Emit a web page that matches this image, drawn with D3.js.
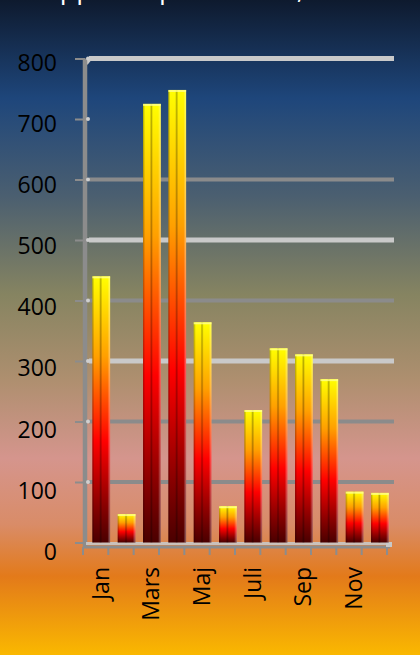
<!DOCTYPE html>
<html><head><meta charset="utf-8">
<script src="https://cdn.jsdelivr.net/npm/d3@7"></script>
<style>html,body{margin:0;padding:0;overflow:hidden;background:#000}</style>
</head><body>
<script>
const months = ["Jan","Feb","Mars","April","Maj","Juni","Juli","Aug","Sep","Okt","Nov","Dec"];
const values = [440, 47, 725, 748, 364, 60, 219, 321, 311, 270, 84, 82];
const yTicks = [0,100,200,300,400,500,600,700,800];
const shownLabels = ["Jan","Mars","Maj","Juli","Sep","Nov"];
const title = "Uppmätt per månad, mm";

const W = 420, H = 655;
const svg = d3.select("body").append("svg").attr("width", W).attr("height", H);
const defs = svg.append("defs");

// background gradient
const bg = defs.append("linearGradient").attr("id","bg").attr("x1",0).attr("y1",0).attr("x2",0).attr("y2",1);
[[0,"#0e1a2e"],[0.15,"#1e467b"],[0.3,"#4b5f70"],[0.45,"#868461"],[0.58,"#ae8f6f"],[0.7,"#d5958d"],[0.8,"#d98c68"],[0.88,"#e37a1a"],[1,"#fab800"]]
  .forEach(([o,c])=>bg.append("stop").attr("offset",o).attr("stop-color",c));
svg.append("rect").attr("width",W).attr("height",H).attr("fill","url(#bg)");

// bar gradients
const bv = defs.append("linearGradient").attr("id","barv").attr("x1",0).attr("y1",0).attr("x2",0).attr("y2",1);
[[0,"#ffff00"],[0.3,"#ffa000"],[0.62,"#ff0000"],[0.86,"#8a0000"],[1,"#4a0000"]]
  .forEach(([o,c])=>bv.append("stop").attr("offset",o).attr("stop-color",c));
const bh = defs.append("linearGradient").attr("id","barh").attr("x1",0).attr("y1",0).attr("x2",1).attr("y2",0);
[[0,"#000",0.3],[0.12,"#000",0],[0.38,"#000",0],[0.47,"#000",0.3],[0.56,"#000",0],[0.85,"#fff",0],[1,"#fff",0.4]]
  .forEach(([o,c,a])=>bh.append("stop").attr("offset",o).attr("stop-color",c).attr("stop-opacity",a));

const y = d3.scaleLinear().domain([0,800]).range([542.5,58.5]);
const yLab = d3.scaleLinear().domain([0,800]).range([551.5,62.5]);
const x = d3.scaleBand().domain(months).range([83,387]).padding(0);
const bw = x.bandwidth();

// title (cut off at top, as in the reference)
svg.append("text").attr("x",40).attr("y",-2).attr("fill","#fff")
  .attr("font-family","Open Sans").attr("font-size",27).text(title);

// gridlines
const light = new Set([800,500,300]);
const grid = svg.append("g");
yTicks.filter(t=>t>0 && t!==700).forEach(t=>{
  grid.append("line").attr("x1",89).attr("x2",394).attr("y1",y(t)).attr("y2",y(t))
    .attr("stroke", light.has(t)?"#c9c9c9":"#8b8b8b")
    .attr("stroke-width", light.has(t)?5:4);
});
svg.append("line").attr("x1",86).attr("x2",90).attr("y1",y(800)+5).attr("y2",y(800)).attr("stroke","#c9c9c9").attr("stroke-width",4);

// vertical axis
svg.append("line").attr("x1",85).attr("x2",85).attr("y1",y(800)).attr("y2",547).attr("stroke","#8c8c8c").attr("stroke-width",4.5);
svg.append("g").selectAll("line").data(yTicks).join("line")
  .attr("x1",75).attr("x2",85).attr("y1",d=>y(d)+0.5).attr("y2",d=>y(d)+0.5)
  .attr("stroke","#8c8c8c").attr("stroke-width",2);
svg.append("g").selectAll("circle").data(yTicks.filter(t=>t>0)).join("circle")
  .attr("cx",88).attr("cy",d=>y(d)).attr("r",2).attr("fill","#cfcfcf");

// y labels
svg.append("g").selectAll("text").data(yTicks).join("text")
  .attr("x",57).attr("y",d=>yLab(d)).attr("dy","0.36em").attr("text-anchor","end")
  .attr("font-family","Open Sans").attr("font-size",23).attr("fill","#000").text(d=>d);

// floor
svg.append("line").attr("x1",86).attr("x2",392).attr("y1",543.5).attr("y2",543.5).attr("stroke","#c8c8c8").attr("stroke-width",3).attr("opacity",0.9);
// bottom axis
svg.append("line").attr("x1",83).attr("x2",390).attr("y1",547).attr("y2",547).attr("stroke","#8c8c8c").attr("stroke-width",3);
svg.append("g").selectAll("line").data(months.concat(["end"])).join("line")
  .attr("x1",(d,i)=>83+i*bw).attr("x2",(d,i)=>83+i*bw).attr("y1",547).attr("y2",555)
  .attr("stroke","#8c8c8c").attr("stroke-width",2);
svg.append("rect").attr("x",386).attr("y",542).attr("width",6).attr("height",5).attr("fill","#c8c8c8");

// bars
const bars = svg.append("g");
const data = months.map((m,i)=>({m, v: values[i]}));
const bx = d => x(d.m) + bw*0.37;
const bW = bw*0.7;
bars.selectAll("rect.b").data(data).join("rect").attr("class","b")
  .attr("x",bx).attr("y",d=>y(d.v)).attr("width",bW).attr("height",d=>y(0)-y(d.v)).attr("fill","url(#barv)");
bars.selectAll("rect.s").data(data).join("rect").attr("class","s")
  .attr("x",bx).attr("y",d=>y(d.v)).attr("width",bW).attr("height",d=>y(0)-y(d.v)).attr("fill","url(#barh)");
bars.selectAll("rect.c").data(data).join("rect").attr("class","c")
  .attr("x",bx).attr("y",d=>y(d.v)).attr("width",bW).attr("height",2).attr("fill","#ffff90").attr("opacity",0.8);

// x labels
svg.append("g").selectAll("text").data(data.filter(d=>shownLabels.includes(d.m))).join("text")
  .attr("transform",d=>`translate(${bx(d)+bW/2-1},567) rotate(-90)`)
  .attr("dy","0.36em").attr("text-anchor","end")
  .attr("font-family","Open Sans").attr("font-size",23).attr("fill","#000").text(d=>d.m);
</script>
</body></html>
